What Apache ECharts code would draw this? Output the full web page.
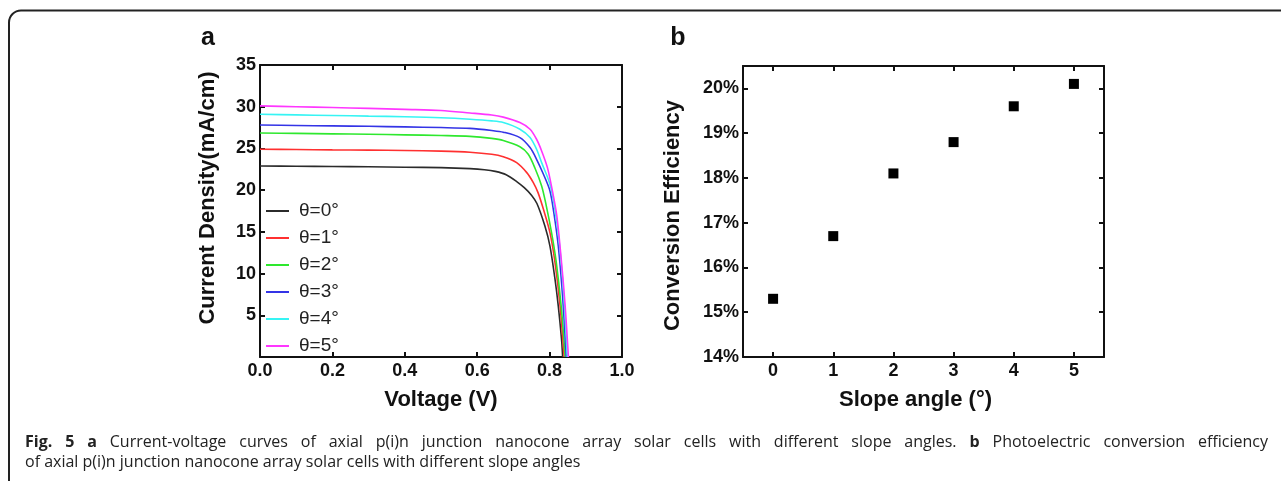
<!DOCTYPE html>
<html>
<head>
<meta charset="utf-8">
<script src="https://cdn.jsdelivr.net/npm/echarts@6/dist/echarts.min.js"></script>
<style>
  html, body { margin: 0; padding: 0; background: #fff; }
  #chart { width: 1281px; height: 481px; }
</style>
</head>
<body>
<div id="chart"></div>
<script>
// Panel a: J-V curves, [voltage (V), current density (mA/cm)]
const seriesNames = ['θ=0°', 'θ=1°', 'θ=2°', 'θ=3°', 'θ=4°', 'θ=5°'];
const ivTheta0 = [[0,22.9],[0.1,22.87],[0.2,22.83],[0.3,22.8],[0.4,22.75],[0.5,22.7],[0.58,22.58],[0.62,22.45],[0.65,22.25],[0.68,21.85],[0.71,21.0],[0.73,20.3],[0.75,19.4],[0.765,18.4],[0.787,15.7],[0.801,13.3],[0.815,9.3],[0.824,6.1],[0.833,2.1],[0.836,0]];
const ivTheta1 = [[0,24.9],[0.1,24.87],[0.2,24.83],[0.3,24.8],[0.4,24.75],[0.5,24.68],[0.58,24.55],[0.64,24.3],[0.672,24.0],[0.709,23.3],[0.737,22.1],[0.755,20.9],[0.768,19.7],[0.783,17.7],[0.801,14.9],[0.815,11.3],[0.829,6.1],[0.84,0]];
const ivTheta2 = [[0,26.85],[0.1,26.8],[0.2,26.75],[0.3,26.7],[0.4,26.63],[0.5,26.55],[0.58,26.45],[0.64,26.2],[0.672,25.95],[0.718,25.2],[0.741,24.3],[0.76,22.6],[0.778,20.5],[0.79,18.3],[0.805,15.0],[0.818,11.5],[0.832,6.1],[0.843,0]];
const ivTheta3 = [[0,27.8],[0.1,27.75],[0.2,27.7],[0.3,27.65],[0.4,27.58],[0.5,27.5],[0.58,27.4],[0.64,27.15],[0.672,26.95],[0.718,26.3],[0.746,25.1],[0.764,23.7],[0.783,21.9],[0.801,19.9],[0.812,17.2],[0.824,13.3],[0.836,7.2],[0.846,0]];
const ivTheta4 = [[0,29.1],[0.1,29.02],[0.2,28.95],[0.3,28.87],[0.4,28.8],[0.5,28.68],[0.58,28.5],[0.64,28.3],[0.672,28.1],[0.718,27.3],[0.746,26.3],[0.764,24.9],[0.778,23.3],[0.801,20.7],[0.815,17.6],[0.827,13.6],[0.839,7.5],[0.849,0]];
const ivTheta5 = [[0,30.1],[0.1,30.0],[0.2,29.9],[0.3,29.8],[0.4,29.68],[0.5,29.55],[0.58,29.25],[0.64,29.0],[0.672,28.75],[0.718,28.1],[0.746,27.3],[0.764,26.1],[0.778,24.7],[0.794,22.7],[0.806,20.3],[0.82,16.9],[0.833,11.3],[0.843,6.1],[0.852,0]];
const ivCurves = [ivTheta0, ivTheta1, ivTheta2, ivTheta3, ivTheta4, ivTheta5];
const curveColors = ['#2b2b2b', '#ff3030', '#2ee82e', '#3434e6', '#36f4f4', '#ff36ff'];

// Panel b: conversion efficiency (%) per slope angle
const slopeAngles = ['0', '1', '2', '3', '4', '5'];
const efficiency = [15.3, 16.7, 18.1, 18.8, 19.6, 20.1];

// Caption: first line is justified across the figure width, the second is left-aligned
const captionLine1 = [['Fig.', true], ['5', true], ['a', true], ['Current-voltage', false], ['curves', false], ['of', false],
  ['axial', false], ['p(i)n', false], ['junction', false], ['nanocone', false], ['array', false], ['solar', false],
  ['cells', false], ['with', false], ['different', false], ['slope', false], ['angles.', false], ['b', true],
  ['Photoelectric', false], ['conversion', false], ['efficiency', false]];
const captionLine2 = 'of axial p(i)n junction nanocone array solar cells with different slope angles';

const FONT = '"Liberation Sans", Arial, sans-serif';
const CAP_FONT = '"Open Sans", sans-serif';
const INK = '#111';

function frameAxis(extra) {
  return Object.assign({
    axisLine: { show: true, onZero: false, lineStyle: { color: INK, width: 2 } },
    axisTick: { show: true, inside: true, length: 5, lineStyle: { color: INK, width: 2 } },
    axisLabel: { show: false },
    splitLine: { show: false }
  }, extra);
}

const tickLabel = { color: INK, fontFamily: FONT, fontWeight: 'bold', fontSize: 18 };
const axisName = { color: INK, fontFamily: FONT, fontWeight: 'bold', fontSize: 22 };

// justified caption words
const measureCtx = document.createElement('canvas').getContext('2d');
function capFont(bold) { return (bold ? 'bold ' : '') + '16px ' + CAP_FONT; }
function wordWidth(w) { measureCtx.font = capFont(w[1]); return measureCtx.measureText(w[0]).width; }
const capLeft = 25, capRight = 1268;
const wordsWidth = captionLine1.reduce((s, w) => s + wordWidth(w), 0);
const gap = (capRight - capLeft - wordsWidth) / (captionLine1.length - 1);
const captionGraphics = [];
let cx = capLeft;
captionLine1.forEach(w => {
  captionGraphics.push({ type: 'text', x: cx, y: 442, silent: true,
    style: { text: w[0], font: capFont(w[1]), fill: '#222', verticalAlign: 'middle' } });
  cx += wordWidth(w) + gap;
});
captionGraphics.push({ type: 'text', x: capLeft, y: 462, silent: true,
  style: { text: captionLine2, font: capFont(false), fill: '#222', verticalAlign: 'middle' } });

const option = {
  backgroundColor: '#fff',
  animation: false,
  grid: [
    { left: 260, right: 659, top: 65, bottom: 124 },
    { left: 743, right: 177, top: 66, bottom: 124 }
  ],
  legend: {
    orient: 'vertical',
    left: 266, top: 201, padding: 0,
    icon: 'rect',
    itemWidth: 23, itemHeight: 2, itemGap: 7,
    data: seriesNames,
    textStyle: { fontFamily: FONT, fontSize: 19, color: '#222', lineHeight: 20, padding: [0, 0, 0, 5] }
  },
  xAxis: [
    frameAxis({
      gridIndex: 0, type: 'value', position: 'bottom', min: 0, max: 1, interval: 0.2,
      name: 'Voltage (V)', nameLocation: 'middle', nameGap: 32, nameTextStyle: axisName,
      axisLabel: Object.assign({ show: true, margin: 5, formatter: v => v.toFixed(1) }, tickLabel)
    }),
    frameAxis({ gridIndex: 0, type: 'value', position: 'top', min: 0, max: 1, interval: 0.2 }),
    frameAxis({
      gridIndex: 1, type: 'category', position: 'bottom', data: slopeAngles, boundaryGap: true,
      axisTick: { show: true, inside: true, length: 5, alignWithLabel: true, lineStyle: { color: INK, width: 2 } },
      name: 'Slope angle (°)', nameLocation: 'middle', nameGap: 32,
      nameTextStyle: Object.assign({ padding: [0, 16, 0, 0] }, axisName),
      axisLabel: Object.assign({ show: true, margin: 5 }, tickLabel)
    }),
    frameAxis({
      gridIndex: 1, type: 'category', position: 'top', data: slopeAngles, boundaryGap: true,
      axisTick: { show: true, inside: true, length: 5, alignWithLabel: true, lineStyle: { color: INK, width: 2 } }
    })
  ],
  yAxis: [
    frameAxis({
      gridIndex: 0, type: 'value', position: 'left', min: 0, max: 35, interval: 5,
      name: 'Current Density(mA/cm)', nameLocation: 'middle', nameGap: 41,
      nameTextStyle: Object.assign({ padding: [0, 0, 0, 26] }, axisName),
      axisLabel: Object.assign({ show: true, margin: 4, showMinLabel: false }, tickLabel)
    }),
    frameAxis({ gridIndex: 0, type: 'value', position: 'right', min: 0, max: 35, interval: 5 }),
    frameAxis({
      gridIndex: 1, type: 'value', position: 'left', min: 14, max: 20.5, interval: 1,
      name: 'Conversion Efficiency', nameLocation: 'middle', nameGap: 59,
      nameTextStyle: Object.assign({ padding: [0, 8, 0, 0] }, axisName),
      axisLabel: Object.assign({ show: true, margin: 4, showMaxLabel: false, formatter: v => v + '%' }, tickLabel)
    }),
    frameAxis({ gridIndex: 1, type: 'value', position: 'right', min: 14, max: 20.5, interval: 1 })
  ],
  series: seriesNames.map((name, i) => ({
    name, type: 'line', xAxisIndex: 0, yAxisIndex: 0,
    data: ivCurves[i], showSymbol: false, smooth: 0.3,
    color: curveColors[i],
    lineStyle: { color: curveColors[i], width: 1.6 }
  })).concat([{
    name: 'efficiency', type: 'scatter', xAxisIndex: 2, yAxisIndex: 2,
    data: efficiency, symbol: 'rect', symbolSize: 10,
    itemStyle: { color: '#000', opacity: 1 }
  }]),
  graphic: [
    // figure frame (open at the bottom and right)
    { type: 'rect', shape: { x: 9, y: 10.5, width: 1400, height: 600, r: 12 },
      style: { fill: 'none', stroke: '#222', lineWidth: 2 }, silent: true },
    { type: 'text', x: 208, y: 38,
      style: { text: 'a', font: 'bold 25px ' + FONT, fill: INK, align: 'center', verticalAlign: 'middle' } },
    { type: 'text', x: 678, y: 38,
      style: { text: 'b', font: 'bold 25px ' + FONT, fill: INK, align: 'center', verticalAlign: 'middle' } }
  ].concat(captionGraphics)
};

const chart = echarts.init(document.getElementById('chart'), null, { renderer: 'canvas' });
chart.setOption(option);
</script>
</body>
</html>
